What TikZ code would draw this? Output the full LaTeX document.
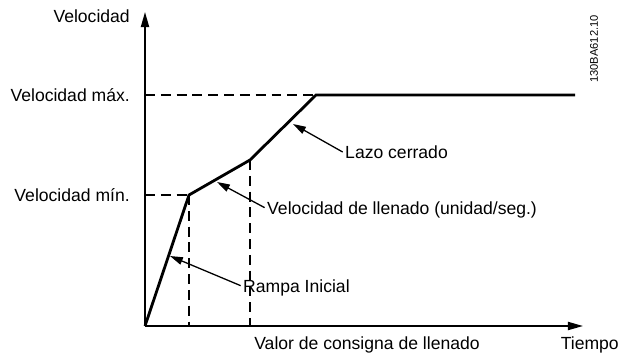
\documentclass[tikz,border=0pt]{standalone}
\usepackage{fontspec}
\setmainfont{Liberation Sans}
\usepackage{tikz}
\usetikzlibrary{arrows.meta,positioning}

\begin{document}
\begin{tikzpicture}[x=0.03cm, y=-0.03cm, >={Stealth[length=13pt,width=7pt,inset=0pt]},
        lbl/.style={inner sep=0pt, font=\fontsize{15}{17}\selectfont},
        axisline/.style={line width=1.4pt},
        guide/.style={line width=1pt, dash pattern=on 8.5pt off 5pt},
        profile/.style={line width=2.4pt, line join=miter},
        callout/.style={-{Stealth[length=11pt,width=6.5pt,inset=0pt]}, line width=1.1pt}]
        \useasboundingbox (0,0) rectangle (631,356);

        % Axes
        \coordinate (o) at (145,326);
        \coordinate (ytop) at (145,12);
        \coordinate (xend) at (583,326);
        \draw[->, axisline] (o) -- (ytop);
        \draw[->, axisline] (o) -- (xend);

        % Speed profile
        \coordinate (pmin) at (189,195);
        \coordinate (pfill) at (250,160);
        \coordinate (pmax) at (316,95);
        \coordinate (pend) at (575,95);
        \coordinate (xmin) at (189,326);
        \coordinate (xfill) at (250,326);
        \coordinate (ymax) at (145,95);
        \coordinate (ymin) at (145,195);
        \draw[guide] (ymax) -- (pmax);
        \draw[guide] (ymin) -- (pmin);
        \draw[guide] (pmin) -- (xmin);
        \draw[guide] (pfill) -- (xfill);
        \draw[profile] (o) -- (pmin) -- (pfill) -- (pmax) -- (pend);

        % Axis labels
        \node[lbl, anchor=east] (vel) at (130,16) {Velocidad};
        \node[lbl, anchor=east] (velmax) at (130,95) {Velocidad máx.};
        \node[lbl, anchor=east] (velmin) at (130,195) {Velocidad mín.};
        \node[lbl] (consigna) at (367,345) {Valor de consigna de llenado};
        \node[lbl, anchor=east] (tiempo) at (619,345) {Tiempo};
        \node[inner sep=0pt, font=\fontsize{9.5}{11}\selectfont, rotate=90] (code) at (594,49) {130BA612.10};

        % Callouts
        \coordinate (tiplazo) at (293,124);
        \coordinate (tipllenado) at (217,182);
        \coordinate (tiprampa) at (170,256);
        \node[lbl, anchor=west] (lazo) at (345,152) {Lazo cerrado};
        \node[lbl, anchor=west] (llenado) at (267,210) {Velocidad de llenado (unidad/seg.)};
        \node[lbl, anchor=west] (rampa) at (243,288) {Rampa Inicial};
        \draw[callout] ([xshift=-2pt]lazo.west) -- (tiplazo);
        \draw[callout] ([xshift=-2pt, yshift=2pt]llenado.west) -- (tipllenado);
        \draw[callout] ([xshift=-2pt, yshift=2pt]rampa.west) -- (tiprampa);
\end{tikzpicture}
\end{document}
